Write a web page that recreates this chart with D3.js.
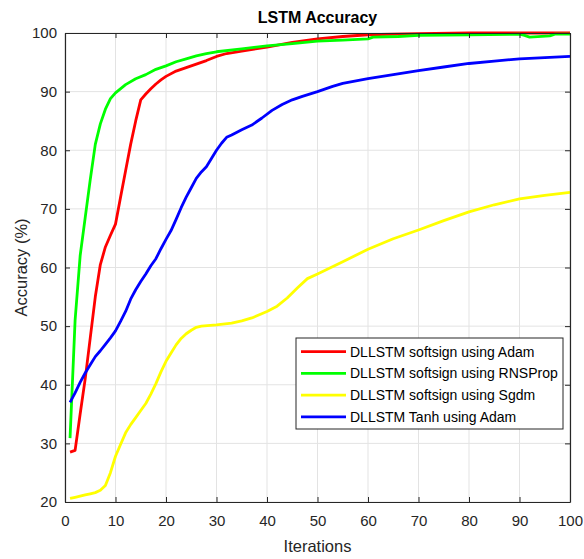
<!DOCTYPE html>
<html>
<head>
<meta charset="utf-8">
<script src="https://cdn.jsdelivr.net/npm/d3@7"></script>
<style>
  body { margin: 0; background: #fff; }
  svg { display: block; font-family: "Liberation Sans", Arial, Helvetica, sans-serif; }
</style>
</head>
<body>
<svg id="chart" width="584" height="559"></svg>
<script>
// [iteration, accuracy %]
var adamSoftsign = [[1,28.5],[2,28.8],[3,35],[4,41],[5,48],[6,55],[7,60.5],[8,63.5],[9,65.5],[10,67.4],
    [11,72],[12,76.5],[13,81],[14,85],[15,88.6],[16,89.6],[17,90.5],[18,91.3],[19,92],[20,92.6],
    [22,93.5],[24,94.1],[26,94.7],[28,95.3],[30,96],[32,96.5],[35,96.9],[40,97.6],[45,98.4],
    [50,99],[55,99.4],[60,99.7],[70,99.9],[80,100],[100,100]];
var rmsSoftsign = [[1,30.9],[2,51],[3,62],[4,68.5],[5,75],[6,81],[7,84.5],[8,87],[9,88.8],[10,89.8],
    [12,91.2],[14,92.2],[16,92.9],[18,93.8],[20,94.4],[22,95.1],[24,95.6],[26,96.1],[28,96.5],
    [30,96.8],[35,97.3],[40,97.8],[45,98.2],[50,98.6],[55,98.8],[60,99],[61,99.3],[66,99.4],
    [70,99.6],[80,99.7],[90,99.8],[91,99.6],[92,99.3],[96,99.5],[97,99.8],[100,99.8]];
var sgdmSoftsign = [[1,20.6],[2,20.8],[3,21],[4,21.2],[5,21.4],[6,21.6],[7,22],[8,22.8],[9,25],[10,27.8],
    [11,29.8],[12,31.8],[13,33.2],[14,34.4],[15,35.6],[16,36.8],[17,38.4],[18,40.2],[19,42.2],[20,44],
    [21,45.4],[22,46.8],[23,47.9],[24,48.7],[25,49.3],[26,49.8],[27,50],[30,50.2],[33,50.5],[35,50.9],
    [37,51.4],[40,52.5],[42,53.4],[44,54.8],[46,56.5],[48,58.1],[50,58.9],[55,61],[60,63.1],
    [65,64.9],[70,66.4],[75,68],[80,69.5],[85,70.7],[90,71.7],[95,72.3],[100,72.8]];
var adamTanh = [[1,37],[2,38.6],[3,40.4],[4,42],[5,43.4],[6,44.8],[7,45.8],[8,46.9],[9,48],[10,49.2],
    [11,50.8],[12,52.5],[13,54.6],[14,56.2],[15,57.6],[16,58.9],[17,60.3],[18,61.5],[19,63.2],[20,64.8],
    [21,66.3],[22,68.2],[23,70.2],[24,72],[25,73.6],[26,75.2],[27,76.3],[28,77.2],[29,78.6],[30,80],
    [31,81.2],[32,82.2],[33,82.6],[35,83.5],[37,84.3],[39,85.5],[41,86.8],[43,87.8],[45,88.6],
    [47,89.2],[50,90],[53,90.9],[55,91.4],[60,92.2],[65,92.9],[70,93.6],[75,94.2],[80,94.8],
    [85,95.2],[90,95.6],[95,95.8],[100,96]];

var seriesNames = ['DLLSTM softsign using Adam', 'DLLSTM softsign using RNSProp',
                   'DLLSTM softsign using Sgdm', 'DLLSTM Tanh using Adam'];
var seriesData = [adamSoftsign, rmsSoftsign, sgdmSoftsign, adamTanh];
var seriesColors = ['#ff0000', '#00ff00', '#ffff00', '#0000ff'];
var xTicks = [0, 10, 20, 30, 40, 50, 60, 70, 80, 90, 100];
var yTicks = [20, 30, 40, 50, 60, 70, 80, 90, 100];

var svg = d3.select('#chart');
var pLeft = 65, pRight = 570, pTop = 33, pBottom = 502;
var axisCol = '#262626';

var x = d3.scaleLinear().domain([0, 100]).range([pLeft, pRight]);
var y = d3.scaleLinear().domain([20, 100]).range([pBottom, pTop]);

// grid
var grid = svg.append('g');
grid.selectAll('line.gx').data(xTicks).enter().append('line')
    .attr('x1', d => x(d)).attr('x2', d => x(d))
    .attr('y1', pTop).attr('y2', pBottom)
    .style('stroke', '#e3e3e3').style('stroke-width', '1px');
grid.selectAll('line.gy').data(yTicks).enter().append('line')
    .attr('x1', pLeft).attr('x2', pRight)
    .attr('y1', d => y(d)).attr('y2', d => y(d))
    .style('stroke', '#e3e3e3').style('stroke-width', '1px');

// curves
var lineGen = d3.line()
    .x(function(d) { return x(d[0]); })
    .y(function(d) { return y(d[1]); });

seriesData.forEach(function(s, i) {
    svg.append('path')
        .attr('d', lineGen(s))
        .style('fill', 'none')
        .style('stroke', seriesColors[i])
        .style('stroke-width', '2.8px')
        .style('stroke-linejoin', 'round');
});

// axes, ticks pointing inward on all four sides
function styleAxis(g) {
    g.select('.domain').style('stroke', axisCol);
    g.selectAll('.tick line').style('stroke', axisCol);
    g.selectAll('.tick text').style('fill', axisCol).style('font-size', '15px');
}
svg.append('g')
    .attr('transform', 'translate(0,' + pBottom + ')')
    .call(d3.axisBottom(x).tickValues(xTicks).tickSizeInner(-5).tickSizeOuter(0).tickPadding(13))
    .call(styleAxis);
svg.append('g')
    .attr('transform', 'translate(' + pLeft + ',0)')
    .call(d3.axisLeft(y).tickValues(yTicks).tickSizeInner(-5).tickSizeOuter(0).tickPadding(8))
    .call(styleAxis);
svg.append('g')
    .attr('transform', 'translate(0,' + pTop + ')')
    .call(d3.axisTop(x).tickValues(xTicks).tickSizeInner(-5).tickSizeOuter(0).tickFormat(''))
    .call(styleAxis);
svg.append('g')
    .attr('transform', 'translate(' + pRight + ',0)')
    .call(d3.axisRight(y).tickValues(yTicks).tickSizeInner(-5).tickSizeOuter(0).tickFormat(''))
    .call(styleAxis);
svg.selectAll('.domain').style('stroke-width', '1.2px');

// title and labels
svg.append('text')
    .attr('x', (pLeft + pRight) / 2).attr('y', 23)
    .attr('text-anchor', 'middle')
    .style('font-size', '16px').style('font-weight', 'bold').style('fill', '#000')
    .text('LSTM Accuracy');
svg.append('text')
    .attr('x', (pLeft + pRight) / 2).attr('y', 552)
    .attr('text-anchor', 'middle')
    .style('font-size', '16.5px').style('fill', axisCol)
    .text('Iterations');
svg.append('text')
    .attr('transform', 'translate(27,' + ((pTop + pBottom) / 2) + ') rotate(-90)')
    .attr('text-anchor', 'middle')
    .style('font-size', '16.5px').style('fill', axisCol)
    .text('Accuracy (%)');

// legend
var legend = svg.append('g').attr('transform', 'translate(296,338)');
legend.append('rect')
    .attr('width', 267).attr('height', 91)
    .style('fill', '#fff').style('stroke', axisCol).style('stroke-width', '1px');
seriesNames.forEach(function(name, i) {
    var ly = 13.7 + i * 21.7;
    legend.append('line')
        .attr('x1', 5).attr('x2', 50).attr('y1', ly).attr('y2', ly)
        .style('stroke', seriesColors[i]).style('stroke-width', '2.8px');
    legend.append('text')
        .attr('x', 54).attr('y', ly + 5)
        .style('font-size', '14px').style('fill', '#000')
        .text(name);
});
</script>
</body>
</html>
